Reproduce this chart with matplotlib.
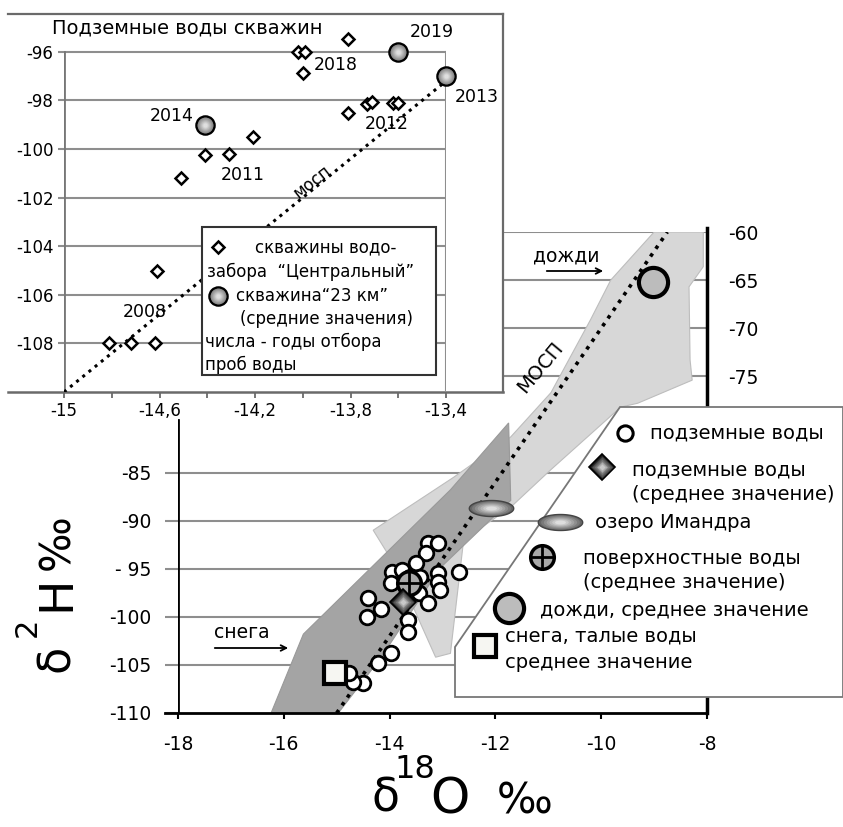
import numpy as np
import matplotlib.pyplot as plt
from matplotlib.colors import to_rgb
from matplotlib.path import Path
from matplotlib.patches import Polygon, Rectangle

plt.rcParams['font.family'] = ['DejaVu Sans']
plt.rcParams['axes.unicode_minus'] = False

W, H = 843, 827

# ---- врезка: подземные воды скважин (d18O, d2H) ----
well_x = [-13.81, -14.02, -13.99, -14.00, -13.81, -13.73, -13.71, -13.62, -13.60,
          -14.41, -14.31, -14.21, -14.51, -14.61, -14.81, -14.72, -14.62]
well_y = [-95.45, -96.0, -96.0, -96.85, -98.5, -98.15, -98.05, -98.1, -98.1,
          -100.25, -100.2, -99.5, -101.2, -105.0, -108.0, -108.0, -108.0]
km23_x = [-14.41, -13.60, -13.40]
km23_y = [-99.0, -96.0, -97.0]
year_text = ['2019', '2018', '2014', '2011', '2012', '2013', '2008']
year_x = [-13.46, -13.86, -14.55, -14.25, -13.65, -13.27, -14.66]
year_y = [-95.2, -96.55, -98.65, -101.05, -98.95, -97.85, -106.7]
inset_mwl_x = [-15.0, -13.4]
inset_mwl_y = [-110.0, -97.2]
inset_xticks = [-15, -14.6, -14.2, -13.8, -13.4]
inset_xlabels = ['-15', '-14,6', '-14,2', '-13,8', '-13,4']
inset_minor = [-14.8, -14.4, -14.0, -13.6]
inset_yticks = [-108, -106, -104, -102, -100, -98, -96]

# ---- основной график ----
gw_x = [-13.28, -13.09, -13.32, -13.51, -12.68, -13.08, -13.09, -13.95, -13.76, -13.61,
        -13.42, -13.98, -14.40, -14.17, -14.42, -13.45, -13.28, -13.66, -13.66, -13.98,
        -14.21, -14.50, -14.70, -14.76, -13.04]
gw_y = [-92.3, -92.3, -93.4, -94.4, -95.3, -95.4, -96.4, -95.3, -95.1, -95.9,
        -95.9, -96.5, -98.0, -99.2, -100.0, -97.5, -98.6, -100.3, -101.6, -103.8,
        -104.8, -106.9, -106.8, -105.8, -97.2]
gw_mean = (-13.74, -98.5)
surf_mean = (-13.64, -96.5)
lake_imandra = (-12.09, -88.7)
rain_mean = (-9.02, -65.2)
snow_mean = (-15.03, -105.8)
gmwl_x = [-15.0, -8.75]
gmwl_y = [-110.0, -60.0]
light_zone_x = [-9.0, -8.07, -8.07, -8.34, -8.32, -8.28, -9.31, -9.63, -10.95, -11.71,
                -12.60, -12.85, -13.13, -13.61, -14.04, -14.31, -12.79, -11.71, -10.95,
                -10.20, -9.82]
light_zone_y = [-60.0, -60.0, -63.6, -65.7, -73.3, -75.4, -77.8, -78.2, -84.7, -88.6,
                -92.0, -103.8, -104.2, -98.3, -93.4, -91.0, -85.5, -81.3, -76.7,
                -69.1, -65.0]
dark_zone_x = [-16.24, -15.63, -12.85, -11.75, -11.71, -13.04, -14.17, -14.97]
dark_zone_y = [-110.0, -101.8, -86.8, -79.85, -87.9, -94.9, -104.3, -110.0]
main_xticks = [-18, -16, -14, -12, -10, -8]
low_yticks = [-110, -105, -100, -95, -90, -85]
low_ylabels = ['-110', '-105', '-100', '- 95', '-90', '-85']
high_yticks = [-75, -70, -65, -60]


def P(px, py):
    return px / W, 1 - py / H


def shade(ax, x, y, marker, ms, dark, light, edge='k', mew=1.5, z=5, tr=None, n=7):
    tr = tr or ax.transData
    d, l = np.array(to_rgb(dark)), np.array(to_rgb(light))
    ax.plot(x, y, ls='none', marker=marker, ms=ms, mfc=dark, mec=edge, mew=mew,
            zorder=z, transform=tr, clip_on=False)
    for i in range(1, n):
        f = i / n
        ax.plot(x, y, ls='none', marker=marker, ms=ms * (1 - 0.88 * f),
                mfc=tuple(d + (l - d) * f), mec='none', zorder=z + 0.01 * i,
                transform=tr, clip_on=False)


t = np.linspace(0, 2 * np.pi, 80)
ellipse = Path(np.column_stack([np.cos(t), 0.36 * np.sin(t)]), closed=True)
grid_c = '#8e8e8e'

fig = plt.figure(figsize=(W / 100, H / 100), dpi=100)

# ================= main axes =================
ax = fig.add_axes([178 / W, 1 - 713 / H, 529 / W, 481 / H])
ax.set_xlim(-18, -8)
ax.set_ylim(-110, -60)
for s in ax.spines.values():
    s.set_visible(False)

for v in [-85, -90, -95, -100, -105]:
    ax.plot([-18, -8], [v, v], color=grid_c, lw=1.5, zorder=1)
for v in high_yticks:
    ax.plot([-11.84, -8], [v, v], color=grid_c, lw=1.5, zorder=1)
ax.plot([-18.25, -8], [-110, -110], color='k', lw=2, zorder=6, clip_on=False)
ax.plot([-18, -18], [-110, -79.5], color='k', lw=2, zorder=6)
ax.plot([-8, -8], [-110, -59.6], color='k', lw=2.5, zorder=6, clip_on=False)

ax.set_xticks(main_xticks, [str(v) for v in main_xticks])
ax.tick_params(axis='x', length=4.5, width=1.5, direction='out', pad=11, labelsize=13.5)
ax.set_yticks(low_yticks, low_ylabels)
ax.tick_params(axis='y', length=9.4, width=1.5, color=grid_c, pad=10, labelsize=13.5)

ax2 = ax.twinx()
ax2.set_ylim(-110, -60)
ax2.set_yticks(high_yticks, [str(v) for v in high_yticks])
ax2.tick_params(axis='y', length=0, pad=15, labelsize=13.5)
for s in ax2.spines.values():
    s.set_visible(False)

ax.add_patch(Polygon(np.column_stack([light_zone_x, light_zone_y]), closed=True,
                     fc='#d7d7d7', ec='#bdbdbd', lw=0.8, zorder=2))
ax.add_patch(Polygon(np.column_stack([dark_zone_x, dark_zone_y]), closed=True,
                     fc='#a4a4a4', ec='#999999', lw=0.8, zorder=3))
ax.plot(gmwl_x, gmwl_y, color='k', lw=2.6, ls=(0, (1, 1.6)), zorder=4)

ax.plot(gw_x, gw_y, ls='none', marker='o', ms=10.5, mfc='white', mec='k', mew=2, zorder=5)
ax.plot(*surf_mean, marker='o', ms=17, mfc='#a9a9a9', mec='k', mew=2.5, zorder=6)
ax.plot(*surf_mean, marker='+', ms=16, mec='k', mew=2, zorder=6.1)
shade(ax, *gw_mean, 'D', 13, '#1e1e1e', '#e6e6e6', mew=1.2, z=6.5)
shade(ax, *lake_imandra, ellipse, 32, '#666666', '#f2f2f2', edge='#444', mew=1, z=6)
ax.plot(*rain_mean, marker='o', ms=21, mfc='#bcbcbc', mec='k', mew=3, zorder=6)
ax.plot(*snow_mean, marker='s', ms=16, mfc='#f6f6f2', mec='k', mew=3, zorder=6)

ax.text(*P(540, 367), 'МОСП', transform=fig.transFigure, rotation=50,
        fontsize=14, ha='center', va='center', zorder=7)
ax.text(*P(533, 256), 'дожди', transform=fig.transFigure, fontsize=13.5,
        ha='left', va='center', zorder=7)
ax.annotate('', xy=P(606, 271), xytext=P(544, 271), xycoords=fig.transFigure,
            arrowprops=dict(arrowstyle='->', lw=1.3, color='k'), zorder=7)
ax.text(*P(214, 633), 'снега', transform=fig.transFigure, fontsize=13.5,
        ha='left', va='center', zorder=7)
ax.annotate('', xy=P(291, 648), xytext=P(212, 648), xycoords=fig.transFigure,
            arrowprops=dict(arrowstyle='->', lw=1.3, color='k'), zorder=7)

# main legend box
box = [P(620, 407), P(843, 407), P(843, 697), P(455, 697), P(455, 647)]
ax.add_patch(Polygon(box, closed=True, fc='white', ec='#777777', lw=1.3,
                     transform=fig.transFigure, zorder=10, clip_on=False))
ft = fig.transFigure
ax.plot(*P(625, 433), marker='o', ms=11, mfc='white', mec='k', mew=2.2,
        transform=ft, zorder=11, clip_on=False)
shade(ax, *P(602, 467), 'D', 13, '#1e1e1e', '#e6e6e6', mew=1.2, z=11, tr=ft)
shade(ax, *P(560, 522), ellipse, 32, '#666666', '#f2f2f2', edge='#444', mew=1, z=11, tr=ft)
ax.plot(*P(542, 557), marker='o', ms=17, mfc='#a9a9a9', mec='k', mew=2.5,
        transform=ft, zorder=11, clip_on=False)
ax.plot(*P(542, 557), marker='+', ms=16, mec='k', mew=2,
        transform=ft, zorder=11.1, clip_on=False)
ax.plot(*P(509, 608), marker='o', ms=21, mfc='#bcbcbc', mec='k', mew=3,
        transform=ft, zorder=11, clip_on=False)
ax.plot(*P(485, 646), marker='s', ms=16, mfc='#f6f6f2', mec='k', mew=3,
        transform=ft, zorder=11, clip_on=False)
legend_lines = [(650, 433, 'подземные воды'),
                (632, 470, 'подземные воды'),
                (632, 495, '(среднее значение)'),
                (595, 522, 'озеро Имандра'),
                (583, 558, 'поверхностные воды'),
                (583, 582, '(среднее значение)'),
                (540, 610, 'дожди, среднее значение'),
                (505, 636, 'снега, талые воды'),
                (505, 662, 'среднее значение')]
for px, py, s in legend_lines:
    ax.text(*P(px, py), s, transform=ft, fontsize=14, ha='left', va='center',
            zorder=12, clip_on=False)

# axis titles
fig.text(*P(56, 658), 'δ', rotation=90, fontsize=32, ha='center', va='center')
fig.text(*P(27, 627), '2', rotation=90, fontsize=22, ha='center', va='center')
fig.text(*P(57, 593), 'H', rotation=90, fontsize=34, ha='center', va='center')
fig.text(*P(57, 542), '‰', rotation=90, fontsize=30, ha='center', va='center')
fig.text(*P(385, 799), 'δ', fontsize=33, ha='center', va='center')
fig.text(*P(415, 770), '18', fontsize=23, ha='center', va='center')
fig.text(*P(450, 799), 'O', fontsize=36, ha='center', va='center')
fig.text(*P(525, 802), '‰', fontsize=30, ha='center', va='center')

# ================= inset =================
axi = fig.add_axes([64 / W, 1 - 392 / H, 382 / W, 378 / H], zorder=5)
axi.set_xlim(-15, -13.4)
axi.set_ylim(-110, -94.44)
axi.patch.set_alpha(0)
for s in axi.spines.values():
    s.set_visible(False)
frame_c = '#6a6a6a'
# white backdrop and frame
axi.add_patch(Rectangle(P(8, 392), 495 / W, 378 / H, transform=fig.transFigure,
                        fc='white', ec='none', zorder=0, clip_on=False))
axi.plot([P(8, 0)[0], P(503, 0)[0]], [P(0, 14)[1]] * 2, color=frame_c, lw=1.6,
         transform=fig.transFigure, clip_on=False, zorder=1)
axi.plot([P(503, 0)[0]] * 2, [P(0, 14)[1], P(0, 392)[1]], color=frame_c, lw=1.6,
         transform=fig.transFigure, clip_on=False, zorder=1)
axi.plot([P(8, 0)[0], P(503, 0)[0]], [P(0, 392)[1]] * 2, color=frame_c, lw=1.8,
         transform=fig.transFigure, clip_on=False, zorder=1)

for v in inset_yticks:
    axi.plot([-15, -13.4], [v, v], color=grid_c, lw=1.5, zorder=1)
axi.plot([-13.4, -13.4], [-110, -96], color=grid_c, lw=1.5, zorder=1)
axi.plot([-15, -15], [-110, -96], color='#777777', lw=2, zorder=1.5)

axi.set_xticks(inset_xticks, inset_xlabels)
axi.set_xticks(inset_minor, minor=True)
axi.tick_params(axis='x', which='both', length=4, width=1.3, color=frame_c,
                pad=3, labelsize=12)
axi.set_yticks(inset_yticks, [str(v) for v in inset_yticks])
axi.tick_params(axis='y', length=4.5, width=1.5, color=grid_c, pad=3, labelsize=12)

axi.plot(inset_mwl_x, inset_mwl_y, color='k', lw=2.2, ls=(0, (1, 1.6)), zorder=3)
axi.plot(well_x, well_y, ls='none', marker='D', ms=6.6, mfc='white', mec='k',
         mew=1.8, zorder=4, clip_on=False)
shade(axi, km23_x, km23_y, 'o', 13, '#7c7c7c', '#f0f0f0', mew=1.8, z=4)
for s, x, y in zip(year_text, year_x, year_y):
    axi.text(x, y, s, fontsize=12.5, ha='center', va='center', zorder=5, clip_on=False)
axi.text(-15.05, -95.0, 'Подземные воды скважин', fontsize=14, ha='left',
         va='center', zorder=5, clip_on=False)

# inset legend
axi.add_patch(Rectangle(P(202, 375), 234 / W, 148 / H, transform=fig.transFigure,
                        fc='white', ec='#333333', lw=1.5, zorder=6, clip_on=False))
axi.plot(*P(218, 247), marker='D', ms=6.6, mfc='white', mec='k', mew=1.8,
         transform=fig.transFigure, zorder=7, clip_on=False)
shade(axi, *P(218, 296), 'o', 13, '#7c7c7c', '#f0f0f0', mew=1.8, z=7, tr=fig.transFigure)
inset_lines = [(255, 247, 'скважины водо-'),
               (207, 272, 'забора  “Центральный”'),
               (236, 296, 'скважина“23 км”'),
               (240, 319, '(средние значения)'),
               (205, 342, 'числа - годы отбора'),
               (205, 365, 'проб воды')]
for px, py, s in inset_lines:
    axi.text(*P(px, py), s, transform=fig.transFigure, fontsize=12, ha='left',
             va='center', zorder=8, clip_on=False)
axi.text(*P(312, 182), 'мосп', transform=fig.transFigure, rotation=38,
         fontsize=12, ha='center', va='center', zorder=5)

fig.savefig('out.png', dpi=100, facecolor='white')
